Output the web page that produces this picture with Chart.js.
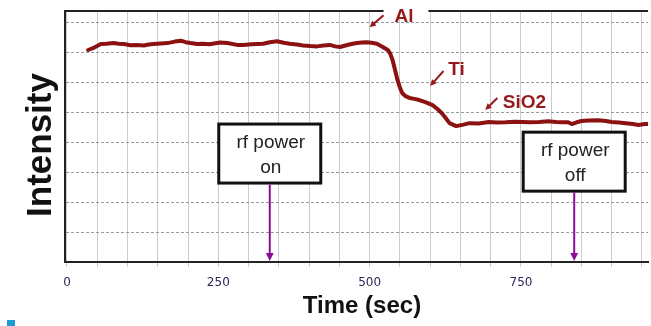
<!DOCTYPE html>
<html>
<head>
<meta charset="utf-8">
<title>Intensity vs time</title>
<script src="https://cdn.jsdelivr.net/npm/chart.js@4.4.1/dist/chart.umd.min.js"></script>
<style>
    html, body { margin: 0; padding: 0; background: #fff; }
    #wrap { width: 651px; height: 326px; }
</style>
</head>
<body>
<div id="wrap"><canvas id="grafico" width="651" height="326"></canvas></div>
<script>
// tempo (s) e intensidade (u.a.)
const tempos = [35, 45, 56, 65, 77, 85, 94, 105, 115, 127, 135, 143, 155, 166, 178, 188, 196, 204, 215, 225,
    235, 253, 265, 281, 291, 305, 324, 335, 347, 358, 368, 380, 390, 402, 413, 424, 434, 443, 451, 460,
    470, 479, 487, 495, 503, 512, 521, 530, 534, 538, 542, 546, 550, 554, 560, 566, 574, 582, 592, 604,
    612, 619, 625, 632, 643, 655, 665, 680, 697, 710, 725, 740, 752, 765, 780, 795, 808, 820, 828, 834,
    842, 850, 862, 878, 890, 900, 912, 923, 935, 944, 955, 962];
const intensidades = [7.07, 7.15, 7.27, 7.28, 7.30, 7.28, 7.27, 7.23, 7.24, 7.22, 7.25, 7.27, 7.29, 7.30, 7.35, 7.38, 7.33, 7.30, 7.27, 7.28,
    7.26, 7.32, 7.30, 7.24, 7.24, 7.26, 7.28, 7.33, 7.36, 7.31, 7.28, 7.25, 7.22, 7.20, 7.19, 7.22, 7.24, 7.19, 7.17, 7.22,
    7.27, 7.30, 7.32, 7.33, 7.31, 7.28, 7.18, 7.07, 6.95, 6.73, 6.40, 6.07, 5.82, 5.63, 5.52, 5.47, 5.44, 5.40, 5.33, 5.23,
    5.10, 4.97, 4.82, 4.63, 4.53, 4.58, 4.63, 4.62, 4.67, 4.65, 4.66, 4.68, 4.67, 4.66, 4.67, 4.69, 4.67, 4.66, 4.66, 4.60,
    4.66, 4.70, 4.72, 4.73, 4.70, 4.67, 4.65, 4.63, 4.60, 4.57, 4.60, 4.60];
const rotulosX = [0, 250, 500, 750];

// camadas marcadas no perfil
const camadas = ['Al', 'Ti', 'SiO2'];
const camadaTextoX = [541, 630, 720];
const camadaTextoY = [8.17, 6.40, 5.30];
const setaDeX = [523, 622, 711];
const setaDeY = [8.23, 6.37, 5.47];
const setaAteX = [500, 600, 691];
const setaAteY = [7.83, 5.87, 5.07];

// liga / desliga rf
const rfTempos = [335, 838];
const rfTextos = [['rf power', 'on'], ['rf power', 'off']];
const rfCaixaTopo = [4.60, 4.33];

const fonte = '"Liberation Sans", Arial, sans-serif';

function desenharSeta(ctx, x1, y1, x2, y2, cor, largura, ponta) {
    const ang = Math.atan2(y2 - y1, x2 - x1);
    ctx.save();
    ctx.strokeStyle = cor;
    ctx.fillStyle = cor;
    ctx.lineWidth = largura;
    ctx.beginPath();
    ctx.moveTo(x1, y1);
    ctx.lineTo(x2 - Math.cos(ang) * ponta * 0.6, y2 - Math.sin(ang) * ponta * 0.6);
    ctx.stroke();
    ctx.beginPath();
    ctx.moveTo(x2, y2);
    ctx.lineTo(x2 - ponta * Math.cos(ang - 0.45), y2 - ponta * Math.sin(ang - 0.45));
    ctx.lineTo(x2 - ponta * Math.cos(ang + 0.45), y2 - ponta * Math.sin(ang + 0.45));
    ctx.closePath();
    ctx.fill();
    ctx.restore();
}

const anotacoes = {
    id: 'anotacoes',
    afterDatasetsDraw(chart) {
        const { ctx, chartArea, scales: { x, y } } = chart;

        // rótulos das camadas
        ctx.save();
        ctx.font = 'bold 19px ' + fonte;
        ctx.fillStyle = '#961a1a';
        ctx.textBaseline = 'middle';
        ctx.textAlign = 'left';
        camadas.forEach((nome, i) => {
            ctx.fillText(nome, x.getPixelForValue(camadaTextoX[i]), y.getPixelForValue(camadaTextoY[i]));
            desenharSeta(ctx,
                x.getPixelForValue(setaDeX[i]), y.getPixelForValue(setaDeY[i]),
                x.getPixelForValue(setaAteX[i]), y.getPixelForValue(setaAteY[i]),
                '#961a1a', 2, 7);
        });
        ctx.restore();

        // caixas rf power
        rfTempos.forEach((t, i) => {
            const px = x.getPixelForValue(t);
            const topo = y.getPixelForValue(rfCaixaTopo[i]);
            const larg = 102, alt = 59;
            ctx.save();
            ctx.fillStyle = '#fff';
            ctx.fillRect(px - larg / 2, topo, larg, alt);
            ctx.strokeStyle = '#111';
            ctx.lineWidth = 3;
            ctx.strokeRect(px - larg / 2, topo, larg, alt);
            ctx.fillStyle = '#222';
            ctx.font = '19px ' + fonte;
            ctx.textAlign = 'center';
            ctx.textBaseline = 'middle';
            ctx.fillText(rfTextos[i][0], px + 1, topo + 19);
            ctx.fillText(rfTextos[i][1], px + 1, topo + 44);
            ctx.restore();
            desenharSeta(ctx, px, topo + alt + 1.5, px, chartArea.bottom - 1, '#8a0d96', 2, 9);
        });
    },
    afterDraw(chart) {
        const { ctx, chartArea, scales: { x, y } } = chart;

        // borda superior com falha atrás do rótulo "Al"
        ctx.save();
        ctx.font = 'bold 19px ' + fonte;
        const inicioFalha = x.getPixelForValue(setaDeX[0]);
        const fimFalha = x.getPixelForValue(camadaTextoX[0]) + ctx.measureText(camadas[0]).width + 15;
        ctx.strokeStyle = '#222';
        ctx.lineWidth = 2;
        ctx.beginPath();
        ctx.moveTo(chartArea.left - 1, chartArea.top);
        ctx.lineTo(inicioFalha, chartArea.top);
        ctx.moveTo(fimFalha, chartArea.top);
        ctx.lineTo(chartArea.right, chartArea.top);
        ctx.stroke();

        // títulos dos eixos
        ctx.fillStyle = '#111';
        ctx.textAlign = 'center';
        ctx.textBaseline = 'alphabetic';
        ctx.font = 'bold 24px ' + fonte;
        ctx.fillText('Time (sec)', 362, 313);
        ctx.translate(51, 145);
        ctx.rotate(-Math.PI / 2);
        ctx.font = 'bold 35px ' + fonte;
        ctx.fillText('Intensity', 0, 0);
        ctx.restore();

        // marcador azul do slide
        ctx.save();
        ctx.fillStyle = '#1b9bd8';
        ctx.fillRect(7, 320, 8, 6);
        ctx.restore();
    }
};

const ctx = document.getElementById('grafico').getContext('2d');
new Chart(ctx, {
    type: 'line',
    data: {
        datasets: [{
            data: tempos.map((t, i) => ({ x: t, y: intensidades[i] })),
            borderColor: '#8c1212',
            borderWidth: 4,
            borderJoinStyle: 'round',
            borderCapStyle: 'round',
            pointRadius: 0,
            tension: 0,
            fill: false
        }]
    },
    options: {
        responsive: false,
        animation: false,
        devicePixelRatio: 1,
        layout: { padding: { left: 65, top: 11, right: 0, bottom: 26.6 } },
        plugins: { legend: { display: false }, tooltip: { enabled: false } },
        scales: {
            x: {
                type: 'linear',
                min: -3.3,
                max: 960,
                afterBuildTicks: (scale) => {
                    const ticks = [];
                    for (let v = 0; v <= 950; v += 50) ticks.push({ value: v });
                    scale.ticks = ticks;
                },
                ticks: {
                    autoSkip: false,
                    maxRotation: 0,
                    padding: 9,
                    color: '#2a2a5c',
                    font: { family: '"DejaVu Sans"', size: 12 },
                    callback: (v) => rotulosX.includes(v) ? String(v) : ''
                },
                grid: { color: '#cccccc', lineWidth: 1, tickLength: 5, drawTicks: true },
                border: { display: true, color: '#222', width: 2 }
            },
            y: {
                min: 0,
                max: 8.37,
                afterBuildTicks: (scale) => {
                    const ticks = [];
                    for (let v = 0; v <= 8; v++) ticks.push({ value: v });
                    scale.ticks = ticks;
                },
                ticks: { display: false },
                grid: { color: '#9a9a9a', lineWidth: 1, drawTicks: false },
                border: { display: true, color: '#222', width: 2, dash: [3, 2] }
            }
        }
    },
    plugins: [anotacoes]
});
</script>
</body>
</html>
